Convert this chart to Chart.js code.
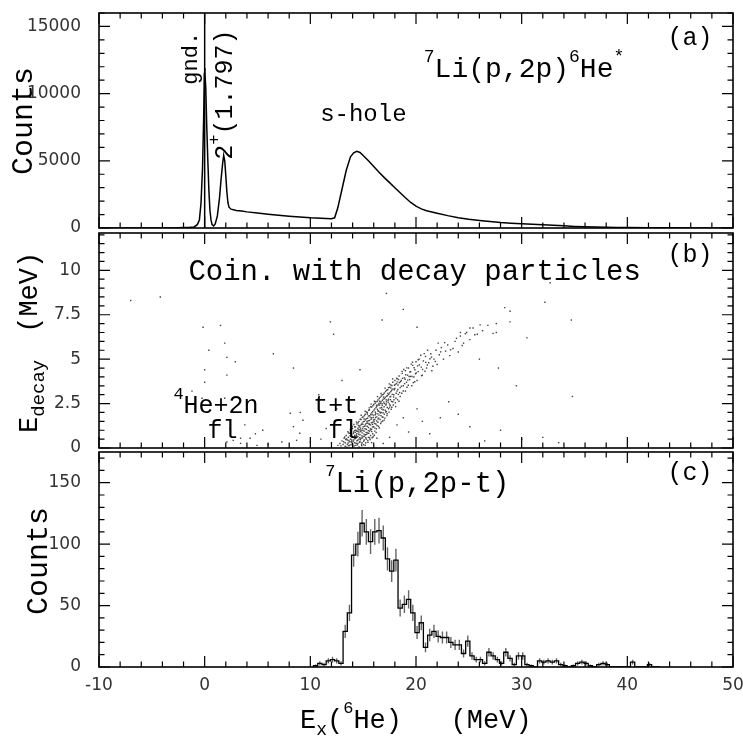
<!DOCTYPE html>
<html><head><meta charset="utf-8">
<script src="https://cdn.jsdelivr.net/npm/chart.js@4.4.1/dist/chart.umd.min.js"></script>
<style>
html,body{margin:0;padding:0;background:#fff;}
#wrap{position:relative;width:743px;height:736px;background:#fff;}
canvas{position:absolute;left:0;top:0;}
</style></head><body>
<div id="wrap">
<canvas id="ca" width="743" height="736"></canvas>
<canvas id="cb" width="743" height="736"></canvas>
<canvas id="cc" width="743" height="736"></canvas>
</div>
<script>
// ---------------- DATA ----------------
const xTicks = [-10, 0, 10, 20, 30, 40, 50];
const aTicks = [0, 5000, 10000, 15000];
const bTicks = [0, 2.5, 5, 7.5, 10];
const cTicks = [0, 50, 100, 150];

// (a) 7Li(p,2p)6He* spectrum
const aX = [-10,-3,-2.5,-2,-1.5,-1,-0.7,-0.5,-0.35,-0.2,-0.1,-0.03,0,0.03,0.1,0.2,0.3,0.4,0.5,0.6,0.7,0.85,1.0,1.2,1.4,1.55,1.7,1.8,1.9,2.0,2.1,2.2,2.3,2.5,3,3.5,4,5,6,7,8,9,10,11,12,12.3,12.6,13.0,13.4,13.8,14.1,14.4,14.7,15.0,15.5,16,16.5,17,17.5,18,18.5,19,19.5,20,20.5,21,22,23,24,25,26,27,28,29,30,31,32,33,34,35,36,37,38,39,40,42,44,46,50];
const aY = [0,0,15,30,40,80,250,600,1800,4500,8000,11500,11900,11600,10500,7500,5000,2800,1300,600,250,150,300,900,2200,3600,4800,5400,5000,3900,2700,1900,1550,1400,1300,1260,1200,1120,1030,950,880,820,760,720,690,760,1500,2900,4300,5300,5600,5700,5620,5400,5000,4580,4150,3750,3380,3000,2620,2250,1900,1620,1420,1280,1100,920,760,650,560,480,410,360,320,280,245,200,160,120,90,70,50,40,30,20,10,5,0];
const gndMarkerX = [0, 0];
const gndMarkerY = [0, 16000];

// (b) coincidence events [Ex, Edecay]
const bEvents = [
[12.6,0.15],[12.8,0.25],[12.9,0.12],[13.0,0.4],[13.1,0.2],[13.2,0.55],[13.3,0.3],[13.3,0.1],[13.4,0.7],[13.5,0.45],
[13.5,0.2],[13.6,0.85],[13.6,0.6],[13.7,0.35],[13.7,0.15],[13.8,0.95],[13.8,0.5],[13.9,0.75],[13.9,0.3],[14.0,1.1],
[14.0,0.6],[14.0,0.2],[14.1,0.9],[14.1,0.45],[14.2,1.2],[14.2,0.7],[14.2,0.3],[14.3,1.0],[14.3,0.55],[14.3,0.15],
[14.4,1.35],[14.4,0.8],[14.4,0.4],[14.5,1.1],[14.5,0.65],[14.5,0.25],[14.6,1.5],[14.6,0.9],[14.6,0.5],[14.7,1.25],
[14.7,0.75],[14.7,0.35],[14.8,1.6],[14.8,1.0],[14.8,0.55],[14.9,1.4],[14.9,0.85],[14.9,0.3],[15.0,1.75],[15.0,1.2],
[15.0,0.65],[15.1,1.5],[15.1,0.95],[15.1,0.45],[15.2,1.9],[15.2,1.3],[15.2,0.75],[15.3,1.65],[15.3,1.05],[15.3,0.5],
[15.4,2.0],[15.4,1.4],[15.4,0.85],[15.5,1.8],[15.5,1.15],[15.5,0.6],[15.6,2.15],[15.6,1.55],[15.6,0.95],[15.7,1.9],
[15.7,1.3],[15.7,0.7],[15.8,2.3],[15.8,1.7],[15.8,1.05],[15.9,2.05],[15.9,1.45],[15.9,0.8],[16.0,2.45],[16.0,1.85],
[16.0,1.2],[16.1,2.2],[16.1,1.6],[16.1,0.95],[16.2,2.6],[16.2,1.95],[16.2,1.35],[16.3,2.35],[16.3,1.75],[16.4,2.7],
[16.4,2.1],[16.4,1.45],[16.5,2.5],[16.5,1.85],[16.6,2.85],[16.6,2.25],[16.6,1.6],[16.7,2.6],[16.7,2.0],[16.8,3.0],
[16.8,2.4],[16.8,1.75],[16.9,2.75],[16.9,2.15],[17.0,3.1],[17.0,2.5],[17.0,1.9],[17.1,2.85],[17.2,3.25],[17.2,2.6],
[17.2,2.05],[17.3,2.95],[17.4,3.4],[17.4,2.75],[17.5,3.1],[17.5,2.3],[17.6,3.55],[17.6,2.9],[17.7,3.25],[17.8,3.7],
[17.8,2.6],[17.9,3.0],[18.0,3.8],[18.0,3.35],[18.1,2.8],[18.2,3.9],[18.2,3.2],[18.3,3.55],[18.4,4.05],[18.5,3.4],
[18.5,2.9],[18.6,3.8],[18.7,4.2],[18.8,3.5],[18.9,3.95],[19.0,4.35],[19.0,3.2],[19.1,3.7],[19.2,4.1],[19.3,4.5],
[19.4,3.85],[19.5,4.3],[19.6,3.5],[19.7,4.65],[19.8,4.0],[19.9,4.4],[20.0,4.85],[20.1,3.8],[20.2,4.3],[20.3,5.0],
[20.5,4.55],[20.6,4.1],[20.7,4.9],[20.9,5.15],[21.0,4.5],[21.2,4.8],[21.4,5.3],[21.5,4.35],[21.7,5.0],[21.9,5.5],
[22.0,4.7],[22.2,5.25],[22.4,5.65],[22.6,5.0],[22.8,5.45],[23.0,5.8],[23.2,5.2],[23.5,5.6],[23.7,6.0],[24.0,5.4],
[24.2,6.3],[24.5,5.9],[24.8,6.5],[25.1,6.1],[25.4,6.75],[25.8,6.4],[26.3,6.6],[26.8,6.9],[27.3,6.45],[27.6,7.0],
[28.4,7.9],[28.9,7.7],[28.9,7.1],
[13.45,0.05],[13.65,0.42],[13.85,0.18],[13.95,0.62],[14.05,0.38],[14.15,0.12],[14.25,0.88],[14.35,0.72],[14.45,0.18],[14.55,1.02],
[14.65,0.32],[14.75,1.12],[14.85,0.22],[14.95,1.08],[15.05,0.38],[15.15,1.22],[15.25,0.58],[15.35,1.48],[15.45,0.32],[15.55,1.38],
[15.65,0.48],[15.75,1.62],[15.85,0.58],[15.95,1.72],[16.05,0.72],[16.15,2.02],[16.25,1.08],[16.35,2.18],[16.45,1.22],[16.55,2.42],
[16.65,1.38],[16.75,2.28],[16.85,1.52],[16.95,2.58],[17.05,1.68],[17.15,2.42],[17.25,1.82],[17.35,2.68],[17.45,2.02],[17.55,2.88],
[17.65,2.18],[17.75,3.02],[17.85,2.42],[17.95,3.28],[18.05,2.55],[18.15,3.62],[18.25,2.72],[18.35,3.85],[18.45,3.12],[18.65,3.08],
[18.85,4.42],[19.15,3.42],[19.35,4.02],[19.55,4.72],[19.75,3.68],[19.95,4.18],[20.15,4.62],[20.45,5.22],[20.85,4.32],[21.1,5.5],
[21.6,4.6],[22.1,5.9],
[13.15,0.35],[13.25,0.62],[13.35,0.48],[13.55,0.92],[13.58,0.28],[13.75,0.68],[13.78,1.05],[13.92,0.45],[14.08,0.82],[14.12,1.32],
[14.22,0.52],[14.28,1.18],[14.38,0.95],[14.42,0.62],[14.52,1.42],[14.58,0.78],[14.62,1.18],[14.68,0.58],[14.72,1.62],[14.78,0.92],
[14.82,1.32],[14.88,0.68],[14.92,1.72],[14.98,0.98],[15.02,1.48],[15.08,0.78],[15.12,1.82],[15.18,1.08],[15.22,1.58],[15.28,0.88],
[15.32,2.02],[15.38,1.22],[15.42,1.68],[15.48,0.98],[15.52,2.12],[15.58,1.32],[15.62,1.82],[15.68,1.08],[15.72,2.32],[15.78,1.42],
[15.82,1.98],[15.88,1.18],[15.92,2.38],[15.98,1.58],[16.02,2.12],[16.08,1.38],[16.12,2.52],[16.18,1.72],[16.22,2.28],[16.28,1.52],
[16.32,2.62],[16.38,1.92],[16.42,2.42],[16.48,1.68],[16.52,2.78],[16.58,2.02],[16.62,2.52],[16.68,1.82],[16.72,2.92],[16.78,2.18],
[16.82,2.68],[16.88,1.98],[16.92,3.02],[16.98,2.32],[17.02,2.78],[17.08,2.12],[17.12,3.18],[17.18,2.48],[17.22,2.92],[17.28,2.28],
[17.32,3.28],[17.38,2.58],[17.42,3.02],[17.48,2.48],[17.52,3.42],[17.58,2.72],[17.62,3.18],[17.68,2.62],[17.72,3.52],[17.82,3.32],
[17.92,2.72],[18.02,3.58],[18.12,3.08],[18.22,3.72],[18.32,3.02],[18.42,3.68],[18.62,3.48],[18.72,3.92],[18.92,3.62],[19.02,4.12],
[19.22,3.82],[19.42,4.28],[19.62,4.02],[19.82,4.52],[20.02,4.22],[20.32,4.68],[20.62,4.42],[20.92,4.82],[21.32,5.02],
[13.42,0.51],[13.63,0.13],[13.71,0.83],[13.87,0.37],[13.96,1.21],[14.03,0.09],[14.17,0.57],[14.19,0.98],[14.33,0.27],[14.36,1.46],
[14.47,0.93],[14.49,0.44],[14.56,1.27],[14.61,0.06],[14.69,1.03],[14.74,0.47],[14.81,1.84],[14.86,0.13],[14.93,0.57],[14.97,1.33],
[15.04,0.19],[15.09,1.63],[15.13,0.67],[15.19,2.07],[15.24,0.29],[15.27,1.37],[15.33,0.77],[15.39,1.91],[15.44,0.43],[15.47,1.53],
[15.53,0.83],[15.57,2.26],[15.61,0.57],[15.66,1.74],[15.71,1.01],[15.76,2.47],[15.81,0.92],[15.84,1.87],[15.89,1.33],[15.94,0.63],
[16.03,1.49],[16.07,2.63],[16.11,1.12],[16.16,1.87],[16.23,0.87],[16.27,2.41],[16.31,1.27],[16.36,2.89],[16.41,1.63],[16.47,2.07],
[16.53,1.13],[16.57,2.63],[16.63,1.97],[16.69,3.07],[16.73,1.47],[16.79,2.49],[16.87,1.73],[16.93,2.87],[16.99,1.57],[17.07,3.37],
[17.13,2.03],[17.19,2.71],[17.27,1.93],[17.34,3.07],[17.41,2.21],[17.47,3.61],[17.56,2.41],[17.63,3.37],[17.71,2.29],[17.79,3.89],
[17.88,2.87],[17.97,3.53],[18.07,2.33],[18.18,3.93],[18.28,3.29],[18.39,2.63],[18.53,3.73],[18.68,4.31],[18.79,3.21],[18.97,3.87],
[19.13,4.51],[19.27,3.53],[19.47,4.03],[19.67,4.83],[19.88,3.73],[20.21,4.97],[20.53,4.07],[20.78,5.31],[21.07,4.67],[21.47,5.11],
[21.83,4.87],[22.33,5.41],[22.71,5.93],[23.27,5.53],[23.83,6.17],[24.37,5.77],[24.67,6.43],[25.57,6.37],[26.07,6.93],
[15.2,0.15],[15.8,0.3],[16.3,0.55],[16.9,0.25],[17.5,0.6],[18.2,1.3],[18.8,1.7],[19.3,0.9],[20.1,2.2],[20.6,1.5],
[21.3,0.8],[22.3,1.7],[23.1,2.6],[24.0,1.9],[25.1,1.2],[26.5,0.4],[28.0,1.0],[30.0,0.5],[32.0,0.6],[33.5,0.3],
[-7.0,8.3],[-4.2,8.5],[-1.2,3.2],[-0.15,6.8],[0.0,4.4],[0.0,3.7],[-0.25,2.8],[0.4,5.5],[1.9,5.9],[2.1,5.1],
[2.1,4.1],[1.9,2.8],[2.9,4.85],[1.0,1.3],[2.4,1.1],[3.8,1.3],[4.8,0.8],[3.4,0.55],[2.1,0.34],[2.7,0.43],
[3.4,0.26],[4.3,0.55],[4.95,0.15],[8.1,1.96],[8.4,1.2],[8.7,0.43],[7.3,0.34],[9.0,0.83],[10.0,0.34],[9.3,1.56],
[8.4,4.5],[9.05,2.0],[11.9,7.1],[12.2,6.4],[14.7,4.4],[17.2,8.7],[18.8,7.8],[16.8,7.2],[20.1,6.8],[32.2,8.2],
[34.7,7.2],[32.7,9.3],[27.8,4.5],[29.5,3.5],[34.8,2.9],[12.5,2.2],[11.0,0.5],[11.5,1.1],[12.0,0.3],[6.0,0.2],
[5.5,1.0],[10.8,3.0],[13.0,3.8],[6.5,5.3],[1.5,6.9],[24.2,6.5],[25.1,6.75],[27.6,6.5],[30.5,6.2],[26.0,5.0]
];

// (c) 7Li(p,2p-t) histogram, bin centres (MeV), counts and errors
const cBinWidth = 0.4;
const cX = [10.5,10.9,11.3,11.7,12.1,12.5,12.9,13.3,13.7,14.1,14.5,14.9,15.3,15.7,16.1,16.5,16.9,17.3,17.7,18.1,18.5,18.9,19.3,19.7,20.1,20.5,20.9,21.3,21.7,22.1,22.5,22.9,23.3,23.7,24.1,24.5,24.9,25.3,25.7,26.1,26.5,26.9,27.3,27.7,28.1,28.5,28.9,29.3,29.7,30.1,30.5,30.9,31.3,31.7,32.1,32.5,32.9,33.3,33.7,34.1,34.5,34.9,35.3,35.7,36.1,36.5,36.9,37.3,37.7,38.1,38.5,38.9,39.3,39.7,40.1,40.5,40.9,41.3,41.7,42.1,42.5,42.9];
const cY = [1,3,2,5,6,5,3,29,44,91,100,117,110,102,110,111,105,88,78,87,48,51,55,44,28,36,16,26,29,25,24,24,20,18,18,11,21,9,6,6,3,12,9,6,3,12,7,2,9,9,2,1,0,5,4,5,4,5,2,1,0,1,3,4,3,1,0,2,3,2,0,0,0,0,0,4,0,0,0,2,0,0];
const cErr = [1,1.7,1.4,2.2,2.4,2.2,1.7,5.4,6.6,9.5,10,10.8,10.5,10.1,10.5,10.5,10.2,9.4,8.8,9.3,6.9,7.1,7.4,6.6,5.3,6,4,5.1,5.4,5,4.9,4.9,4.5,4.2,4.2,3.3,4.6,3,2.4,2.4,1.7,3.5,3,2.4,1.7,3.5,2.6,1.4,3,3,1.4,1,0,2.2,2,2.2,2,2.2,1.4,1,0,1,1.7,2,1.7,1,0,1.4,1.7,1.4,0,0,0,0,0,2,0,0,0,1.4,0,0];

// ---------------- DRAWING ----------------
const MONO = '"Liberation Mono","Courier New",monospace';
const TICKFONT = {family: 'DejaVu Sans', size: 17};

function richText(ctx, parts, x, y, rot, center) {
  ctx.save();
  ctx.translate(x, y);
  if (rot) ctx.rotate(-Math.PI / 2);
  ctx.textBaseline = 'alphabetic';
  ctx.textAlign = 'left';
  let total = 0;
  for (const p of parts) { ctx.font = p.s + 'px ' + MONO; total += (p.gap || 0) + ctx.measureText(p.t).width; }
  let cx = center ? -total / 2 : 0;
  for (const p of parts) {
    ctx.font = p.s + 'px ' + MONO;
    cx += (p.gap || 0);
    ctx.fillText(p.t, cx, p.dy || 0);
    cx += ctx.measureText(p.t).width;
  }
  ctx.restore();
}

function isMajor(v, step) { const r = v / step; return Math.abs(r - Math.round(r)) < 1e-6; }

const decoPlugin = {
  id: 'deco',
  afterDatasetsDraw(chart, args, o) {
    const {ctx, chartArea: ca, scales: {x, y}} = chart;
    ctx.save();
    ctx.strokeStyle = '#000';
    ctx.lineWidth = 1.6;
    ctx.strokeRect(ca.left, ca.top, ca.right - ca.left, ca.bottom - ca.top);
    ctx.lineWidth = 1.2;
    ctx.beginPath();
    const nx = Math.round((x.max - x.min) / o.xMinor);
    for (let i = 0; i <= nx; i++) {
      const v = x.min + i * o.xMinor;
      const px = x.getPixelForValue(v);
      const L = isMajor(v, o.xMajor) ? 11 : 5.5;
      ctx.moveTo(px, ca.top); ctx.lineTo(px, ca.top + L);
      ctx.moveTo(px, ca.bottom); ctx.lineTo(px, ca.bottom - L);
    }
    const ny = Math.floor((y.max - y.min) / o.yMinor + 1e-6);
    for (let i = 0; i <= ny; i++) {
      const v = y.min + i * o.yMinor;
      const py = y.getPixelForValue(v);
      const L = isMajor(v, o.yMajor) ? 11 : 5.5;
      ctx.moveTo(ca.left, py); ctx.lineTo(ca.left + L, py);
      ctx.moveTo(ca.right, py); ctx.lineTo(ca.right - L, py);
    }
    ctx.stroke();
    ctx.fillStyle = '#000';
    for (const a of o.notes) {
      const px = a.px !== undefined ? a.px : x.getPixelForValue(a.x);
      const py = a.py !== undefined ? a.py : y.getPixelForValue(a.y);
      richText(ctx, a.parts, px, py, a.rot, a.center);
    }
    ctx.restore();
  }
};

function makeChart(id, top, bottom, yMin, yMax, yTicks, datasets, showX, deco) {
  const xh = showX ? 30 : 0;
  return new Chart(document.getElementById(id), {
    type: 'line',
    data: {datasets},
    options: {
      responsive: false, animation: false, devicePixelRatio: 1, events: [],
      layout: {padding: {left: 0, right: 10, top: top, bottom: 736 - bottom - xh}},
      plugins: {legend: {display: false}, tooltip: {enabled: false}, deco},
      scales: {
        x: {
          type: 'linear', min: -10, max: 50, display: showX,
          grid: {display: false}, border: {display: false},
          afterBuildTicks: s => { s.ticks = xTicks.map(v => ({value: v})); },
          afterFit: s => { s.height = xh; s.paddingLeft = 0; s.paddingRight = 0; },
          ticks: {padding: 0, maxRotation: 0, autoSkip: false, color: '#333', font: TICKFONT, callback: v => String(v)}
        },
        y: {
          type: 'linear', min: yMin, max: yMax,
          grid: {display: false}, border: {display: false},
          afterBuildTicks: s => { s.ticks = yTicks.map(v => ({value: v})); },
          afterFit: s => { s.width = 99; s.paddingTop = 0; s.paddingBottom = 0; },
          ticks: {padding: 10, autoSkip: false, color: '#333', font: TICKFONT, callback: v => String(v)}
        }
      }
    },
    plugins: [decoPlugin]
  });
}

// Panel (a)
makeChart('ca', 13, 228, 0, 16000, aTicks, [
  {data: aX.map((v, i) => ({x: v, y: aY[i]})), borderColor: '#000', borderWidth: 1.5, pointRadius: 0, tension: 0, fill: false},
  {data: gndMarkerX.map((v, i) => ({x: v, y: gndMarkerY[i]})), borderColor: '#000', borderWidth: 1.5, pointRadius: 0, fill: false}
], false, {
  xMinor: 2, xMajor: 10, yMinor: 1000, yMajor: 5000,
  notes: [
    {x: 43.8, y: 13640, parts: [{t: '(a)', s: 25}]},
    {x: 20.74, y: 11235, parts: [{t: '7', s: 18, dy: -15}, {t: 'Li(p,2p)', s: 28}, {t: '6', s: 18, dy: -15}, {t: 'He', s: 28}, {t: '*', s: 18, dy: -15}]},
    {x: 10.93, y: 7931, parts: [{t: 's-hole', s: 24}]},
    {x: -0.69, y: 10662, rot: true, parts: [{t: 'gnd.', s: 22}]},
    {x: 2.63, y: 5082, rot: true, parts: [{t: '2', s: 25}, {t: '+', s: 17, dy: -13}, {t: '(1.797)', s: 25}]},
    {px: 32, py: 121, rot: true, center: true, parts: [{t: 'Counts', s: 30}]}
  ]
});

// Panel (b)
makeChart('cb', 233, 448, 0, 12.1, bTicks, [
  {type: 'scatter', data: bEvents.map(p => ({x: p[0], y: p[1]})), pointStyle: 'rect', pointRadius: 1.0, pointBorderWidth: 0, backgroundColor: '#444', showLine: false}
], false, {
  xMinor: 2, xMajor: 10, yMinor: 0.5, yMajor: 2.5,
  notes: [
    {x: -1.54, y: 9.46, parts: [{t: 'Coin. with decay particles', s: 29}]},
    {x: 43.8, y: 10.46, parts: [{t: '(b)', s: 25}]},
    {x: -2.96, y: 1.96, parts: [{t: '4', s: 17, dy: -14}, {t: 'He+2n', s: 25}]},
    {x: 0.26, y: 0.55, parts: [{t: 'fl', s: 25}]},
    {x: 10.27, y: 1.96, parts: [{t: 't+t', s: 25}]},
    {x: 11.69, y: 0.55, parts: [{t: 'fl', s: 25}]},
    {px: 37, py: 433, rot: true, parts: [{t: 'E', s: 27}, {t: 'decay', s: 19, dy: 7}, {t: '(MeV)', s: 27, gap: 27}]}
  ]
});

// Panel (c)
const cSteps = [{x: cX[0] - cBinWidth / 2, y: 0}];
cX.forEach((v, i) => { cSteps.push({x: v - cBinWidth / 2, y: cY[i]}); cSteps.push({x: v + cBinWidth / 2, y: cY[i]}); });
cSteps.push({x: cX[cX.length - 1] + cBinWidth / 2, y: 0});
const cBars = [];
cX.forEach((v, i) => { if (cErr[i] > 0) { cBars.push({x: v, y: cY[i] - cErr[i]}); cBars.push({x: v, y: cY[i] + cErr[i]}); cBars.push({x: v, y: null}); } });

makeChart('cc', 452, 667, 0, 175, cTicks, [
  {data: cSteps, borderColor: '#000', borderWidth: 1.3, pointRadius: 0, tension: 0, fill: false},
  {data: cBars, borderColor: '#666', borderWidth: 1.4, pointRadius: 0, spanGaps: false, fill: false}
], true, {
  xMinor: 2, xMajor: 10, yMinor: 10, yMajor: 50,
  notes: [
    {x: 11.41, y: 142.3, parts: [{t: '7', s: 17, dy: -16}, {t: 'Li(p,2p-t)', s: 29}]},
    {x: 43.8, y: 152, parts: [{t: '(c)', s: 25}]},
    {px: 47, py: 561, rot: true, center: true, parts: [{t: 'Counts', s: 30}]},
    {px: 300, py: 728, parts: [{t: 'E', s: 27}, {t: 'x', s: 18, dy: 7}, {t: '(', s: 27}, {t: '6', s: 17, dy: -15}, {t: 'He)', s: 27}, {t: '(MeV)', s: 27, gap: 48.6}]}
  ]
});
</script>
</body></html>
